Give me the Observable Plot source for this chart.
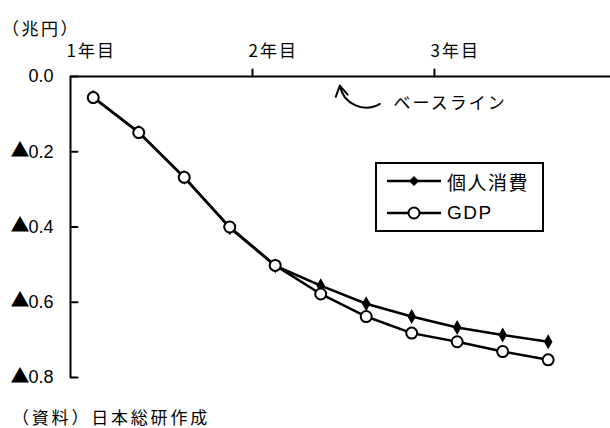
<!DOCTYPE html>
<html><head><meta charset="utf-8">
<script src="https://cdn.jsdelivr.net/npm/d3@7"></script>
<script src="https://cdn.jsdelivr.net/npm/@observablehq/plot@0.6"></script>
<style>
body{margin:0;background:#fff;font-family:"Liberation Sans","Noto Sans CJK JP",sans-serif;}
#wrap{position:relative;width:610px;height:428px;overflow:hidden;}
#title{height:30px;font-size:17px;line-height:17px;letter-spacing:2.5px;padding:19px 0 0 2px;box-sizing:border-box;font-family:"Noto Sans CJK JP",sans-serif;white-space:nowrap;}
#caption{font-size:17px;line-height:17px;letter-spacing:2.8px;padding-left:12px;margin-top:18px;font-family:"Noto Sans CJK JP",sans-serif;white-space:nowrap;}
#legend{position:absolute;left:375px;top:162px;width:169px;height:70px;border:2px solid #000;box-sizing:border-box;background:#fff;font-size:19px;letter-spacing:1.5px;}
.row{position:absolute;left:10px;height:24px;display:flex;align-items:center;}
.row svg{margin-right:4px;}
[aria-label="x-axis tick label"] text{letter-spacing:2px;}
</style></head>
<body>
<div id="wrap">
<div id="title">（兆円）</div>
<div id="chart"></div>
<div id="caption">（資料）日本総研作成</div>
<div id="legend"></div>
</div>
<script>
const quarters = [0.5,1.5,2.5,3.5,4.5,5.5,6.5,7.5,8.5,9.5,10.5];
const consumption = [0.055,0.148,0.268,0.402,0.503,0.556,0.604,0.638,0.667,0.687,0.705];
const gdp = [0.056,0.149,0.268,0.400,0.502,0.578,0.638,0.682,0.705,0.731,0.753];
const seriesNames = ["個人消費","GDP"];
const yTicks = [0,0.2,0.4,0.6,0.8];
const xTicks = [0,4,8];
const xTickLabels = ["1年目","2年目","3年目"];
const annotation = {text:"ベースライン", x:7.1, y:0.073, arrowX1:6.8, arrowY1:0.073, arrowX2:5.92, arrowY2:0.024};

const cData = quarters.map((q,i)=>({q, v:consumption[i]}));
const gData = quarters.map((q,i)=>({q, v:gdp[i]}));
const tick = {draw(ctx,l){ctx.moveTo(0,0);ctx.lineTo(0,-l);}};

const chart = Plot.plot({
  width:610, height:360,
  marginLeft:70, marginRight:0, marginTop:46, marginBottom:13,
  style:{fontSize:"18px", fontFamily:'"Liberation Sans","Noto Sans CJK JP",sans-serif', color:"#000", background:"#fff"},
  x:{domain:[0,11.87], axis:null},
  y:{domain:[0,0.8], reverse:true, axis:null},
  marks:[
    Plot.axisY(yTicks,{anchor:"left", tickSize:0, tickPadding:17, fontSize:18,
      tickFormat:d=> d.toFixed(1)}),
    Plot.text(yTicks.filter(d=>d>0),{x:0, y:d=>d, text:()=>"▲", textAnchor:"end", dx:-41, dy:-1,
      fontSize:19, fontFamily:"Noto Sans CJK JP"}),
    Plot.axisX(xTicks,{anchor:"top", tickSize:0, tickPadding:20, textAnchor:"start", dx:-4, fontSize:17,
      fontFamily:"Noto Sans CJK JP", tickFormat:d=>xTickLabels[xTicks.indexOf(d)]}),
    Plot.ruleY([0],{stroke:"#000", strokeWidth:2}),
    Plot.ruleX([0],{y1:0, y2:0.8, stroke:"#000", strokeWidth:2}),
    Plot.vector(yTicks,{x:0, y:d=>d, length:7, rotate:90, anchor:"start", shape:tick, stroke:"#000", strokeWidth:2}),
    Plot.vector(xTicks.slice(1),{x:d=>d, y:0, length:7, rotate:0, anchor:"start", shape:tick, stroke:"#000", strokeWidth:2}),
    Plot.arrow([annotation],{x1:"arrowX1", y1:"arrowY1", x2:"arrowX2", y2:"arrowY2", bend:55, stroke:"#000", strokeWidth:2, headLength:9}),
    Plot.text([annotation],{x:"x", y:"y", text:"text", textAnchor:"start", fontSize:17,
      fontFamily:"Noto Sans CJK JP"}),
    Plot.line(cData,{x:"q", y:"v", stroke:"#000", strokeWidth:2.5}),
    Plot.line(gData,{x:"q", y:"v", stroke:"#000", strokeWidth:2.5}),
    Plot.dot(cData,{x:"q", y:"v", symbol:"diamond", r:4.5, fill:"#000", stroke:"none"}),
    Plot.dot(gData,{x:"q", y:"v", r:5.5, fill:"#fff", stroke:"#000", strokeWidth:2})
  ]
});
document.getElementById("chart").appendChild(chart);
d3.select(chart).selectAll("text").filter(function(){return this.textContent==="ベースライン";}).style("letter-spacing","2px");

const legend = document.getElementById("legend");
seriesNames.forEach((name,i)=>{
  const row = document.createElement("div");
  row.className="row";
  row.style.top = (i===0 ? 5 : 37)+"px";
  const marker = i===0
    ? '<path d="M27,7 L32,12 L27,17 L22,12 Z" fill="#000"/>'
    : '<circle cx="27" cy="12" r="5.5" fill="#fff" stroke="#000" stroke-width="2"/>';
  row.innerHTML = `<svg width="56" height="24"><line x1="0" x2="54" y1="12" y2="12" stroke="#000" stroke-width="2.5"/>${marker}</svg><span>${name}</span>`;
  legend.appendChild(row);
});
</script>
</body></html>
